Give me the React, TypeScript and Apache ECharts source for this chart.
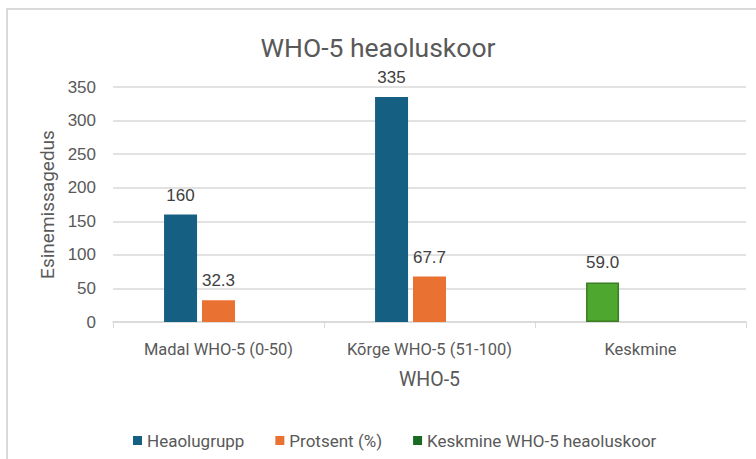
import React, { useEffect, useRef } from "react";
import * as echarts from "echarts";

const categories = ["Madal WHO-5 (0-50)", "Kõrge WHO-5 (51-100)", "Keskmine"];
const heaolugrupp = [160, 335, null];
const protsent = [32.3, 67.7, null];
const keskmine = [null, null, 59.0];
const filler = [null, null, null];
const titleText = "WHO-5 heaoluskoor";
const yName = "Esinemissagedus";
const xName = "WHO-5";

const grey = "#595959";
const fontA = "'Liberation Sans', Arial, sans-serif";
const fontB = "Roboto, 'Noto Sans', sans-serif";

export default function App() {
  const ref = useRef<HTMLDivElement>(null);
  useEffect(() => {
    if (!ref.current) return;
    const chart = echarts.init(ref.current, null, { renderer: "svg" });
    const labelStyle = {
      show: true,
      position: "top",
      distance: 11,
      color: "#404040",
      fontSize: 17,
      fontFamily: fontA,
    };
    chart.setOption({
      animation: false,
      backgroundColor: "#ffffff",
      title: {
        text: titleText,
        left: "center",
        top: 29,
        textStyle: { color: grey, fontSize: 26.5, fontWeight: "normal", fontFamily: fontB },
      },
      graphic: [
        {
          type: "rect",
          shape: { x: 7, y: 9, width: 760, height: 460 },
          style: { fill: "none", stroke: "#d9d9d9", lineWidth: 2 },
          silent: true,
        },
      ],
      legend: {
        data: ["Heaolugrupp", "Protsent (%)", "Keskmine WHO-5 heaoluskoor"],
        left: 128,
        top: 427,
        icon: "rect",
        itemWidth: 9,
        itemHeight: 9,
        itemGap: 31,
        textStyle: { color: grey, fontSize: 17, fontFamily: fontB },
      },
      grid: { left: 113, right: 10, top: 87, bottom: 137 },
      xAxis: {
        type: "category",
        data: categories,
        name: xName,
        nameLocation: "middle",
        nameGap: 47,
        nameTextStyle: { color: grey, fontSize: 19.5, fontFamily: fontB },
        axisLine: { lineStyle: { color: "#d9d9d9", width: 1.5 } },
        axisTick: { show: true, length: 6, lineStyle: { color: "#d9d9d9" } },
        axisLabel: {
          color: grey,
          fontSize: 16.5,
          fontFamily: fontB,
          margin: 19,
          interval: 0,
          hideOverlap: false,
        },
      },
      yAxis: {
        type: "value",
        min: 0,
        max: 350,
        interval: 50,
        name: yName,
        nameLocation: "middle",
        nameGap: 55,
        nameTextStyle: { color: grey, fontSize: 19, fontFamily: fontB },
        axisLabel: { color: grey, fontSize: 17, fontFamily: fontA, margin: 17 },
        splitLine: { lineStyle: { color: "#d9d9d9", width: 1.5 } },
        axisLine: { show: false },
        axisTick: { show: false },
      },
      series: [
        {
          name: "Heaolugrupp",
          type: "bar",
          stack: "s1",
          data: heaolugrupp,
          barWidth: 33,
          barGap: "15%",
          itemStyle: { color: "#156082" },
          label: { ...labelStyle, formatter: (p: any) => String(p.value) },
        },
        {
          name: "Protsent (%)",
          type: "bar",
          data: protsent,
          barWidth: 33,
          barGap: "15%",
          itemStyle: { color: "#e97132" },
          label: { ...labelStyle, formatter: (p: any) => Number(p.value).toFixed(1) },
        },
        {
          name: "filler",
          type: "bar",
          data: filler,
          barWidth: 33,
          barGap: "15%",
        },
        {
          name: "Keskmine WHO-5 heaoluskoor",
          type: "bar",
          stack: "s1",
          data: keskmine.map((v) =>
            v == null
              ? null
              : { value: v, itemStyle: { color: "#4ea72e", borderColor: "#3b7d23", borderWidth: 1.5 } }
          ),
          barWidth: 33,
          barGap: "15%",
          itemStyle: { color: "#196b24" },
          label: { ...labelStyle, formatter: (p: any) => Number(p.value).toFixed(1) },
        },
      ],
    });
    return () => chart.dispose();
  }, []);
  return (
    <div
      ref={ref}
      style={{ position: "fixed", left: 0, top: 0, width: 756, height: 459, background: "#fff" }}
    />
  );
}
